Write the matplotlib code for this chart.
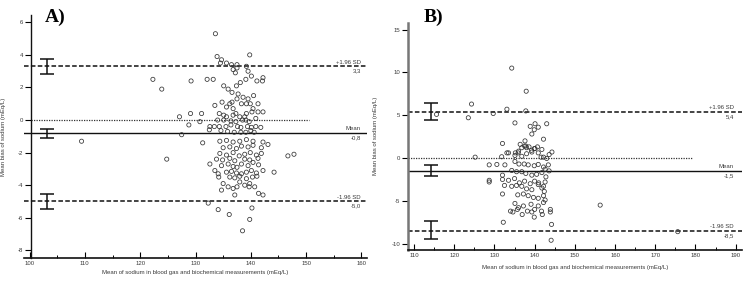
import matplotlib
matplotlib.use("Agg")
import matplotlib.pyplot as plt
from matplotlib.ticker import MultipleLocator

plt.rcParams['font.family'] = ['Liberation Sans', 'DejaVu Sans']
plt.rcParams['axes.unicode_minus'] = False

# ---------------- Panel A data ----------------
a_mean = [133.6, 133.9, 139.8, 134.7, 134.5, 135.6, 136.5, 137.5, 136.8, 137.5, 139.2, 139.5, 137.2, 140.1, 139.1, 141.1, 142.2, 142.1, 138.1, 137.4,
          122.3, 123.9, 129.2, 132.1, 133.2, 135.1, 135.9, 136.6, 137.7, 138.6, 139.5, 137.5, 136.6, 136.2, 140.5, 138.3, 139.2, 139.9, 141.3, 134.8,
          133.5, 135.6, 136.8, 140.4, 141.3, 142.2, 140.2, 139.2, 129.1, 131.1, 127.1, 130.8, 128.8, 132.6, 132.5, 127.5, 134.3, 135.1, 135.6, 136.8,
          137.3, 138.0, 138.9, 134.0, 135.1, 136.4, 137.3, 138.5, 139.1, 139.7, 140.9, 133.4, 134.3, 135.5, 136.4, 137.6, 138.2, 139.4, 140.1, 140.9,
          141.8, 134.6, 135.8, 137.0, 138.2, 139.1, 140.0, 140.6,
          109.4, 131.3, 124.8, 146.7, 147.8, 144.2, 142.2, 132.6, 133.5, 134.1, 134.2, 135.0, 134.7, 135.9, 136.8, 137.5, 138.9, 139.8, 140.7, 137.1,
          141.4, 142.2, 132.3, 134.1, 136.1, 140.2, 139.8, 138.5,
          134.4, 135.6, 136.8, 138.0, 139.2, 140.4, 142.2, 143.1,
          135.0, 136.2, 137.4, 138.3, 139.5, 140.4, 141.9,
          134.4, 135.6, 136.8, 137.9, 138.9, 139.9, 141.0, 141.9,
          133.8, 134.9, 136.2, 137.1, 138.9, 139.8, 141.3,
          134.7, 135.9, 136.8, 137.5, 138.3, 139.5, 140.4, 141.4,
          135.6, 136.5, 137.4, 138.3, 139.2, 140.1, 141.0,
          136.2, 137.1, 138.0, 139.2, 140.3, 141.1,
          138.0, 139.7]
a_diff = [5.3, 3.9, 4.0, 3.7, 3.5, 3.5, 3.4, 3.4, 3.1, 3.2, 3.3, 3.0, 2.9, 2.7, 2.5, 2.4, 2.6, 2.4, 2.3, 2.1,
          2.5, 1.9, 2.4, 2.5, 2.5, 2.1, 1.9, 1.7, 1.6, 1.4, 1.3, 1.3, 1.1, 1.0, 1.5, 1.0, 1.0, 1.0, 1.0, 1.1,
          0.9, 0.8, 0.7, 0.7, 0.5, 0.5, 0.5, 0.4, 0.4, 0.4, 0.2, -0.1, -0.3, -0.4, -0.6, -0.9, 0.4, 0.3, 0.2, 0.3,
          0.4, 0.2, 0.2, 0.0, 0.0, -0.05, -0.1, 0.0, 0.0, -0.1, 0.1, -0.4, -0.4, -0.4, -0.3, -0.4, -0.45, -0.4, -0.45, -0.4,
          -0.45, -0.65, -0.7, -0.75, -0.75, -0.75, -0.65, -0.75,
          -1.3, -1.4, -2.4, -2.2, -2.1, -3.2, -3.1, -2.7, -3.1, -3.3, -3.5, -3.9, -4.3, -4.1, -4.2, -4.1, -4.0, -3.9, -4.1, -4.6,
          -4.5, -4.6, -5.1, -5.5, -5.8, -5.4, -6.1, -6.8,
          -1.3, -1.25, -1.35, -1.3, -1.2, -1.3, -1.35, -1.5,
          -1.7, -1.65, -1.75, -1.6, -1.65, -1.55, -1.7,
          -2.05, -2.15, -2.0, -2.2, -2.1, -2.0, -2.15, -2.05,
          -2.4, -2.45, -2.35, -2.5, -2.4, -2.45, -2.35,
          -2.8, -2.7, -2.85, -2.9, -2.7, -2.8, -2.6, -2.75,
          -3.2, -3.15, -3.25, -3.3, -3.2, -3.1, -3.25,
          -3.5, -3.55, -3.45, -3.6, -3.5, -3.45,
          -3.8, -4.1]
a_bias, a_upper, a_lower = -0.8, 3.3, -5.0
a_ci_x = 103.2
a_ci_upper = (2.85, 3.75)
a_ci_bias = (-1.1, -0.55)
a_ci_lower = (-5.45, -4.55)
a_texts = ["+1.96 SD", "3,3", "Mean", "-0,8", "-1.96 SD", "-5,0"]
a_xticks = [100, 110, 120, 130, 140, 150, 160]
a_yticks = [-8, -6, -4, -2, 0, 2, 4, 6]

# ---------------- Panel B data ----------------
b_mean = [115.6, 124.3, 123.5, 129.7, 133.1, 134.3, 137.9, 137.8, 135.1, 125.2,
          138.9, 140.1, 140.9, 139.9, 139.3, 142.2, 143.0, 137.6, 132.0, 144.3,
          136.4, 137.5, 136.8, 138.0, 139.2, 140.1, 136.0, 135.2, 133.1, 137.8, 138.6, 139.9, 140.7, 141.8,
          133.5, 135.1, 131.8, 135.9, 136.8, 138.0, 139.3, 140.9, 141.6, 142.2, 143.0, 143.6,
          128.7, 130.6, 132.6, 135.1, 136.1, 137.4, 138.4, 139.9, 140.9, 142.2, 142.6, 143.4, 143.6,
          134.3, 135.5, 136.8, 137.8, 139.3, 140.5, 141.8, 142.8, 132.0,
          128.7, 128.7, 132.0, 132.5, 133.5, 135.0, 136.2, 137.5, 138.9, 140.0, 141.0, 142.2, 142.6,
          134.3, 135.5, 136.8, 138.0, 139.3, 140.9, 141.8, 142.4, 132.0,
          135.8, 137.2, 138.4, 139.7, 140.9, 142.2, 142.6, 142.2,
          135.1, 136.0, 137.2, 139.1, 140.0, 140.9,
          134.0, 134.6, 135.7, 136.9, 138.2, 139.3, 139.9, 141.7, 141.9, 143.9, 143.9,
          132.2, 144.2, 144.1, 156.3, 175.6]
b_diff = [5.1, 6.3, 4.7, 5.2, 5.7, 10.5, 7.8, 5.5, 4.1, 0.1,
          3.7, 4.0, 3.6, 3.3, 2.8, 2.2, 4.0, 2.0, 1.7, 0.7,
          1.6, 1.4, 1.2, 1.2, 0.9, 1.1, 0.8, 0.6, 0.6, 1.4, 1.3, 1.1, 1.3, 1.0,
          0.6, 0.3, 0.15, 0.6, 0.2, 0.5, 0.7, 0.6, 0.1, 0.1, -0.05, 0.4,
          -0.8, -0.75, -0.8, -0.4, -0.7, -0.7, -0.8, -0.9, -0.75, -1.05, -1.3, -0.8, -1.5,
          -1.45, -1.6, -1.6, -1.8, -2.0, -1.9, -1.7, -2.2, -2.0,
          -2.6, -2.8, -2.5, -3.2, -2.6, -2.4, -2.9, -2.7, -3.0, -2.7, -2.9, -3.3, -2.8,
          -3.3, -3.2, -3.3, -3.6, -3.7, -3.1, -3.5, -3.9, -4.2,
          -4.3, -4.2, -4.4, -4.6, -4.7, -4.4, -4.9, -5.2,
          -5.3, -5.8, -5.6, -5.4, -6.0, -5.6,
          -6.2, -6.3, -6.0, -6.6, -6.2, -6.3, -6.9, -6.2, -6.6, -6.0, -6.3,
          -7.5, -7.75, -9.6, -5.5, -8.6]
b_bias, b_upper, b_lower = -1.5, 5.4, -8.5
b_ci_x = 114.2
b_ci_upper = (4.4, 6.45)
b_ci_bias = (-2.15, -0.85)
b_ci_lower = (-9.5, -7.35)
b_texts = ["+1.96 SD", "5,4", "Mean", "-1,5", "-1.96 SD", "-8,5"]
b_xticks = [110, 120, 130, 140, 150, 160, 170, 180, 190]
b_yticks = [-10, -5, 0, 5, 10, 15]

xlabel = "Mean of sodium in blood gas and biochemical measurements (mEq/L)"
xlabel_a = "Mean of sodium in blood gas and biochemical measurements (mEq/L)"
ylabel = "Mean bias of sodium (mEq/L)"

TXT = '#3a3a3a'
FS = 4.3

fig = plt.figure(figsize=(7.5, 2.82), dpi=100)


def panel(rect, xs, ys, bias, upper, lower, ci_x, ci_u, ci_b, ci_l, texts,
          xticks, yticks, xlim, ylim, spine_x, zero_end, text_x, lab, ylab_x,
          xlab_y, left_style):
    ax = fig.add_axes(rect)
    ax.set_xlim(*xlim)
    ax.set_ylim(*ylim)
    ax.spines['top'].set_visible(False)
    ax.spines['right'].set_visible(False)
    ax.spines['left'].set_position(('data', spine_x))
    ax.spines['left'].set_color(left_style[0])
    ax.spines['left'].set_linewidth(left_style[1])
    ax.spines['bottom'].set_linewidth(1.2)
    ax.spines['bottom'].set_color('#111111')

    ax.axhline(upper, color='#111111', lw=1.1, ls=(0, (3, 1.5)), zorder=2)
    ax.axhline(lower, color='#111111', lw=1.1, ls=(0, (3, 1.5)), zorder=2)
    ax.axhline(bias, color='#111111', lw=1.0, zorder=2)
    ax.plot([spine_x, zero_end], [0, 0], color='#333333', lw=0.9,
            ls=(0, (1, 1)), zorder=2)

    for lo, hi in (ci_u, ci_b, ci_l):
        ax.errorbar([ci_x], [(lo + hi) / 2], yerr=[[(hi - lo) / 2], [(hi - lo) / 2]],
                    fmt='none', ecolor='#111111', elinewidth=1.1, capsize=4.8,
                    capthick=1.1, zorder=3)

    ax.scatter(xs, ys, s=9, facecolors='none', edgecolors='#333333',
               linewidths=0.55, zorder=4)

    for val, (t_above, t_below) in zip((upper, bias, lower),
                                        ((texts[0], texts[1]), (texts[2], texts[3]), (texts[4], texts[5]))):
        ax.annotate(t_above, (text_x, val), xytext=(0, 1.2), textcoords='offset points',
                    ha='right', va='bottom', fontsize=FS, color=TXT)
        ax.annotate(t_below, (text_x, val), xytext=(0, -1.5), textcoords='offset points',
                    ha='right', va='top', fontsize=FS, color=TXT)

    ax.set_xticks(xticks)
    ax.set_yticks(yticks)
    ax.xaxis.set_minor_locator(MultipleLocator(5))
    ax.tick_params(axis='x', which='major', direction='in', length=4, width=0.8,
                   labelsize=FS, labelcolor=TXT, pad=2)
    ax.tick_params(axis='x', which='minor', direction='in', length=2.5, width=0.7)
    ax.tick_params(axis='y', which='major', direction='out', length=4, width=0.8,
                   labelsize=FS, labelcolor=TXT, pad=1.5)
    ax.set_xlabel(lab, fontsize=FS, color=TXT)
    ax.set_ylabel(ylabel, fontsize=FS, color=TXT)
    ax.yaxis.set_label_coords(ylab_x, 0.5)
    ax.xaxis.set_label_coords(0.5, xlab_y)
    return ax


panel([24 / 750, 1 - 258 / 282, 343 / 750, 243 / 282], a_mean, a_diff,
      a_bias, a_upper, a_lower, a_ci_x, a_ci_upper, a_ci_bias, a_ci_lower, a_texts,
      a_xticks, a_yticks, (99.0, 161.0), (-8.47, 6.45), 100.25, 150.5, 159.9,
      xlabel_a, -0.052, -0.05, ('#111111', 1.0))

panel([408 / 750, 1 - 250 / 282, 333.7 / 750, 227.3 / 282], b_mean, b_diff,
      b_bias, b_upper, b_lower, b_ci_x, b_ci_upper, b_ci_bias, b_ci_lower, b_texts,
      b_xticks, b_yticks, (108.5, 191.5), (-10.74, 15.8), 108.5, 179.5, 189.5,
      xlabel, -0.09, -0.065, ('#777777', 1.8))

fig.text(45 / 750, 1 - 17 / 282, "A)", fontfamily='Liberation Serif',
         fontweight='bold', fontsize=14, va='center', ha='left')
fig.text(424 / 750, 1 - 17 / 282, "B)", fontfamily='Liberation Serif',
         fontweight='bold', fontsize=14, va='center', ha='left')

fig.savefig('out.png', dpi=100)
